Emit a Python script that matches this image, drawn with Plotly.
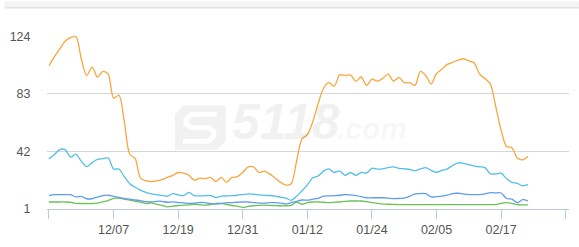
import datetime as dt
import plotly.graph_objects as go

# ---------------- data ----------------
n_days = 90
dates = [(dt.date(2018, 11, 25) + dt.timedelta(days=i)).isoformat() for i in range(n_days)]

orange = [103, 109.5, 115, 120.5, 123, 123.8, 108, 96, 102, 95,
          99, 97, 80, 82, 63, 40, 37, 23, 21, 20.5,
          21, 22, 23.5, 25, 27, 26.5, 25, 21.5, 23, 22.5,
          23.5, 20.5, 23.5, 20, 23.5, 24, 27, 31, 31, 27,
          28, 26, 23, 20, 18, 19, 35, 51, 54, 63,
          76, 87, 91, 88.5, 96.5, 96, 96.5, 92, 95, 89,
          93.5, 92, 94, 97, 92, 94.7, 91, 91, 89, 99,
          96, 90, 97.5, 100.5, 104, 105.4, 107, 108, 106.5, 105,
          97, 94, 90, 74, 57, 45.5, 44.6, 37.3, 36, 38.4]

cyan = [36.7, 39.8, 43.3, 43.3, 38, 40, 35, 31.2, 34, 36.3,
        36.8, 37.3, 29.5, 29.5, 24, 19, 16.5, 14.5, 12.8, 11.8,
        11.2, 10.7, 10.1, 11.9, 11, 10.5, 12.8, 10.5, 10.3, 10.5,
        10.6, 9.2, 10.1, 10.3, 10.5, 10.8, 11.3, 11.8, 11.5, 11,
        10.8, 10.6, 10.2, 9.5, 8.8, 7.2, 10, 14, 18.2, 23.2,
        24.5, 28, 29.6, 27, 28.2, 25, 27, 25, 27, 26.5,
        30, 29.4, 29.6, 30.5, 31, 30, 29.6, 29.2, 28.2, 29.5,
        30.5, 28.5, 27.1, 28.5, 29.6, 32, 33.9, 33.5, 32.6, 31.5,
        31, 30.5, 26, 26, 26.5, 22.5, 20, 19.2, 17.5, 18.3]

blue = [10.5, 11.2, 11.2, 11.2, 11.2, 9.6, 10, 8.3, 8.3, 9.5,
        10.5, 10.8, 10, 9.3, 8.5, 8, 7.4, 7, 6.2, 6,
        6.5, 6.5, 5.8, 6.1, 5.6, 5.4, 5, 5.2, 5.6, 5.5,
        4.8, 4.5, 4.8, 5.5, 5.6, 5.8, 6, 6, 5.6, 5.2,
        5.2, 5.5, 5.6, 5.2, 4.6, 5.6, 6.5, 7.4, 7.3, 8,
        8.6, 10.1, 10.3, 10.5, 10.8, 11.2, 11, 10.5, 9.8, 9,
        9, 9, 9, 8.8, 8.4, 8.5, 8.8, 10, 11.8, 12,
        11.9, 9.6, 9.8, 10.1, 10.8, 12, 12.2, 11.7, 11.3, 11.2,
        11.3, 11.8, 12.6, 12.5, 12.4, 8.5, 8, 5.5, 7.6, 6.7]

green = [6, 6, 6, 6, 5.8, 5, 4.9, 4.9, 4.9, 5.2,
         6, 7, 8.5, 8.7, 8, 7.3, 6.5, 5.8, 4.9, 5.3,
         4.4, 3.5, 2.5, 3, 3.5, 3.7, 4, 4.4, 4, 3.7,
         4.2, 5, 5, 4.2, 3.5, 3, 2.2, 2.8, 3.3, 3.6,
         3.7, 3.6, 3.4, 3.3, 3.3, 3.5, 6, 4.4, 5.5, 6,
         6, 5.8, 5.6, 5.8, 6, 6.5, 6.7, 6.7, 6.7, 6.2,
         5.6, 5, 4.5, 4.4, 4.3, 4.1, 4.1, 4.1, 4.1, 4.1,
         4.1, 4.1, 4.1, 4.1, 4.1, 4.1, 4.1, 4.1, 4.1, 4.1,
         4.1, 4.1, 4.1, 4.1, 5, 5.6, 5, 4.2, 4, 4]

tick_dates = ["2018-11-25", "2018-12-07", "2018-12-19", "2018-12-31", "2019-01-12",
              "2019-01-24", "2019-02-05", "2019-02-17", "2019-03-01"]
tick_labels = ["", "12/07", "12/19", "12/31", "01/12", "01/24", "02/05", "02/17", ""]
y_ticks = [1, 42, 83, 124]

series = [
    ("green", green, "#6cc257"),
    ("blue", blue, "#5e9cee"),
    ("cyan", cyan, "#52bfe8"),
    ("orange", orange, "#f9a63f"),
]

# ---------------- figure ----------------
W, H = 579, 247
ML, MR, MT, MB = 43, 10, 36, 30
PW = W - ML - MR
PH = H - MT - MB


def px(x):
    return (x - ML) / PW


def py(y):
    return (H - MB - y) / PH


fig = go.Figure()
for name, vals, color in series:
    fig.add_trace(go.Scatter(
        x=dates, y=vals, mode="lines", name=name,
        line=dict(color=color, width=1.3, shape="spline", smoothing=0.8),
        hoverinfo="skip",
    ))

px_per_day = (565.7 - 45) / 96.0
x0 = dt.datetime(2018, 11, 25) - dt.timedelta(days=(45 - ML) / px_per_day)
x1 = dt.datetime(2019, 3, 1) + dt.timedelta(days=(W - MR - 565.7) / px_per_day)

shapes = []
# top header band
shapes.append(dict(type="rect", xref="paper", yref="paper",
                   x0=px(0), x1=px(W), y0=py(6), y1=py(0),
                   fillcolor="#f4f4f4", line=dict(width=0), layer="below"))
shapes.append(dict(type="line", xref="paper", yref="paper",
                   x0=px(0), x1=px(W), y0=py(6.5), y1=py(6.5),
                   line=dict(color="#e2e2e2", width=1.5), layer="below"))

# watermark logo (decoration)
lx0, lx1, ly0, ly1 = 172, 223, 108.5, 155
c = 9
pts = [(lx0 + c, ly0), (lx1, ly0), (lx1, ly1 - c), (lx1 - c, ly1), (lx0, ly1), (lx0, ly0 + c)]
path = "M " + " L ".join(f"{px(a):.5f},{py(b):.5f}" for a, b in pts) + " Z"
shapes.append(dict(type="path", xref="paper", yref="paper", path=path,
                   fillcolor="#f1f1f1", line=dict(width=0), layer="below"))
s_pts = [(214, 118), (189, 118), (183, 123), (183, 128), (189, 132), (206, 132),
         (211, 136), (211, 141), (205, 146), (180, 146)]
s_path = "M " + " L ".join(f"{px(a):.5f},{py(b):.5f}" for a, b in s_pts)
shapes.append(dict(type="path", xref="paper", yref="paper", path=s_path,
                   line=dict(color="white", width=5), layer="below"))

annotations = [
    dict(xref="paper", yref="paper", x=px(227), y=py(126), xanchor="left", yanchor="middle",
         text="<b><i>5118</i></b>", showarrow=False,
         font=dict(family="Liberation Sans, Arial", size=50, color="rgba(0,0,0,0.055)")),
    dict(xref="paper", yref="paper", x=px(333), y=py(133), xanchor="left", yanchor="middle",
         text="<b><i>.com</i></b>", showarrow=False,
         font=dict(family="Liberation Sans, Arial", size=30, color="rgba(0,0,0,0.055)")),
]

fig.update_layout(
    width=W, height=H,
    margin=dict(l=ML, r=MR, t=MT, b=MB, pad=0),
    paper_bgcolor="white", plot_bgcolor="white",
    showlegend=False,
    shapes=shapes,
    annotations=annotations,
    hovermode=False,
    font=dict(family="Liberation Sans, Arial", size=12, color="#555555"),
)
fig.update_xaxes(
    type="date", range=[x0, x1],
    tickvals=tick_dates, ticktext=tick_labels,
    showgrid=False, zeroline=False,
    showline=True, linecolor="#bcc7d6", linewidth=1.3,
    ticks="outside", ticklen=9, tickcolor="#bcc7d6", tickwidth=1.3,
    tickfont=dict(size=12.5, color="#555555"),
)
fig.update_yaxes(
    range=[1, 124.2], tickvals=y_ticks,
    showgrid=True, gridcolor="#d6d6d6", gridwidth=1,
    zeroline=False, showline=False,
    ticks="outside", ticklen=13, tickcolor="rgba(0,0,0,0)",
    tickfont=dict(size=12.5, color="#555555"),
)

fig.write_html("out.html", config=dict(displayModeBar=False))
